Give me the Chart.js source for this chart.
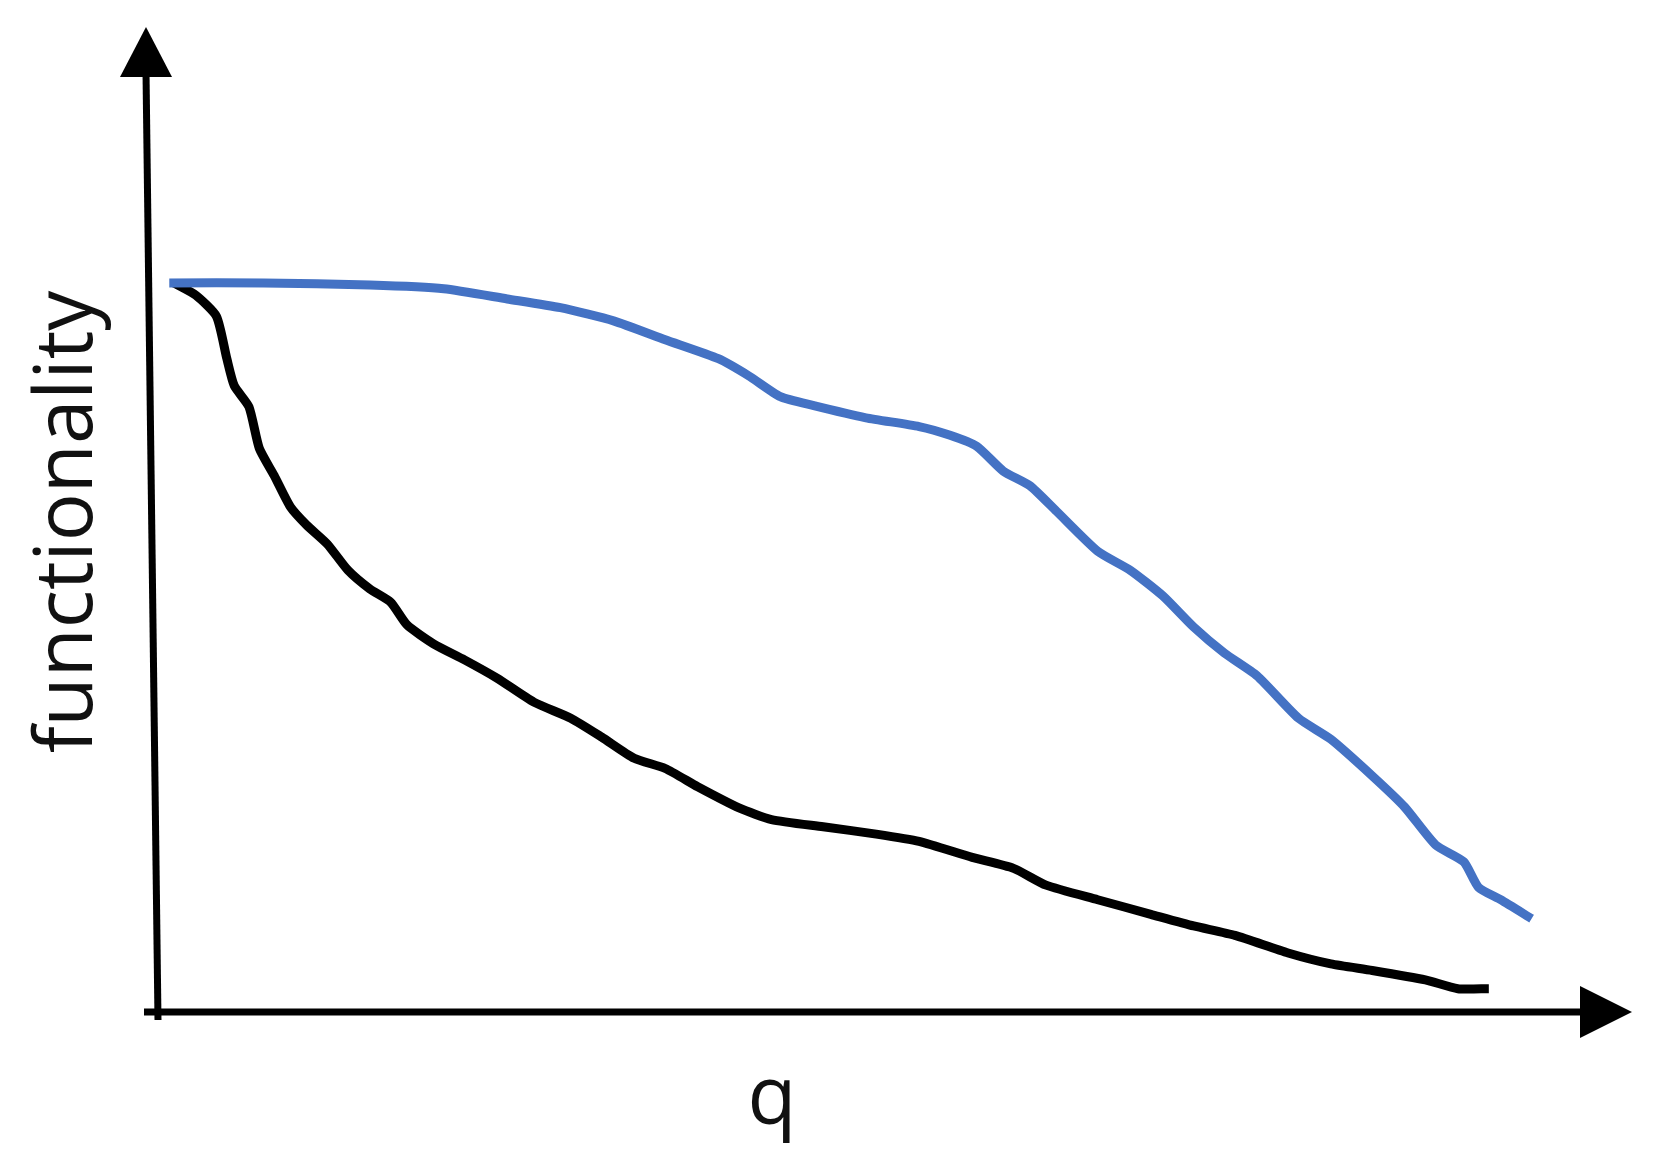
<!DOCTYPE html>
<html>
<head>
<meta charset="utf-8">
<script src="https://cdn.jsdelivr.net/npm/chart.js@4"></script>
<style>
  html, body { margin: 0; padding: 0; background: #fff; }
  #wrap { width: 1656px; height: 1171px; position: relative; }
</style>
</head>
<body>
<div id="wrap"><canvas id="chart"></canvas></div>
<script>
// q positions (0..100 along the x axis) and functionality (1 = starting level)
const blueQ = [0.9, 7.3, 14.5, 19.5, 23.8, 27.4, 31.0, 34.5, 38.1, 40.2, 42.3, 44.5, 48.1, 51.7, 53.8, 55.6, 57.4, 59.2, 61.0, 63.8, 66.0, 68.2, 70.3, 72.4, 74.6, 77.4, 79.6, 82.5, 84.6, 86.7, 88.6, 89.6, 91.1, 93.2];
const blueF = [1.000, 1.000, 0.997, 0.992, 0.978, 0.966, 0.948, 0.922, 0.896, 0.872, 0.844, 0.832, 0.815, 0.803, 0.791, 0.776, 0.742, 0.722, 0.687, 0.632, 0.606, 0.571, 0.528, 0.492, 0.461, 0.403, 0.374, 0.322, 0.281, 0.229, 0.206, 0.171, 0.154, 0.128];

const blackQ = [1.2, 2.7, 4.1, 4.8, 5.3, 6.3, 7.0, 8.0, 9.1, 10.2, 11.6, 13.0, 14.5, 15.9, 17.0, 18.8, 20.9, 23.1, 25.6, 28.1, 30.2, 32.4, 34.5, 36.7, 39.5, 41.7, 45.2, 48.8, 51.7, 55.3, 58.1, 60.3, 63.8, 67.4, 70.3, 73.1, 76.7, 79.6, 82.4, 86.0, 88.2, 90.3];
const blackF = [1.000, 0.983, 0.954, 0.896, 0.859, 0.830, 0.773, 0.736, 0.693, 0.668, 0.642, 0.606, 0.580, 0.562, 0.531, 0.505, 0.483, 0.458, 0.425, 0.403, 0.377, 0.348, 0.334, 0.309, 0.280, 0.264, 0.254, 0.244, 0.234, 0.212, 0.197, 0.174, 0.154, 0.134, 0.118, 0.105, 0.081, 0.066, 0.057, 0.044, 0.032, 0.032];

const xLabel = 'q';
const yLabel = 'functionality';

const toPoints = (xs, ys) => xs.map((x, i) => ({ x: x, y: ys[i] }));

// arrows, axis lines and the two axis labels
const axesPlugin = {
  id: 'arrowAxes',
  afterDraw(chart) {
    const ctx = chart.ctx;
    const x0 = chart.scales.x.getPixelForValue(0);
    const y0 = chart.scales.y.getPixelForValue(0);
    const top = chart.chartArea.top;
    const right = chart.chartArea.right;
    ctx.save();
    ctx.strokeStyle = '#000';
    ctx.fillStyle = '#000';
    ctx.lineWidth = 7;

    // y axis, leaning a little to the left at the top
    ctx.beginPath();
    ctx.moveTo(x0 + 2, y0 + 8);
    ctx.lineTo(x0 - 10, top + 45);
    ctx.stroke();
    ctx.beginPath();
    ctx.moveTo(x0 - 10, top);
    ctx.lineTo(x0 - 36, top + 50);
    ctx.lineTo(x0 + 16, top + 50);
    ctx.closePath();
    ctx.fill();

    // x axis
    ctx.beginPath();
    ctx.moveTo(x0 - 12, y0);
    ctx.lineTo(right - 45, y0);
    ctx.stroke();
    ctx.beginPath();
    ctx.moveTo(right, y0);
    ctx.lineTo(right - 52, y0 - 26);
    ctx.lineTo(right - 52, y0 + 26);
    ctx.closePath();
    ctx.fill();

    ctx.font = '80px "Open Sans"';
    ctx.fillStyle = '#111';
    ctx.textAlign = 'center';
    ctx.textBaseline = 'alphabetic';
    ctx.fillText(xLabel, 772, 1124);

    ctx.translate(92, 522);
    ctx.rotate(-Math.PI / 2);
    ctx.fillText(yLabel, 0, 0);
    ctx.restore();
  }
};

const ctx = document.getElementById('chart').getContext('2d');
new Chart(ctx, {
  type: 'line',
  data: {
    datasets: [
      {
        data: toPoints(blueQ, blueF),
        borderColor: '#4472C4',
        borderWidth: 9,
        pointRadius: 0,
        tension: 0.2,
        fill: false
      },
      {
        data: toPoints(blackQ, blackF),
        borderColor: '#000000',
        borderWidth: 9,
        pointRadius: 0,
        tension: 0.2,
        fill: false
      }
    ]
  },
  options: {
    responsive: true,
    maintainAspectRatio: false,
    animation: false,
    layout: { padding: { left: 156, right: 24, top: 27, bottom: 159 } },
    plugins: {
      legend: { display: false },
      tooltip: { enabled: false }
    },
    scales: {
      x: { type: 'linear', min: 0, max: 100, display: false },
      y: { type: 'linear', min: 0, max: 1.351, display: false }
    }
  },
  plugins: [axesPlugin]
});
</script>
</body>
</html>
